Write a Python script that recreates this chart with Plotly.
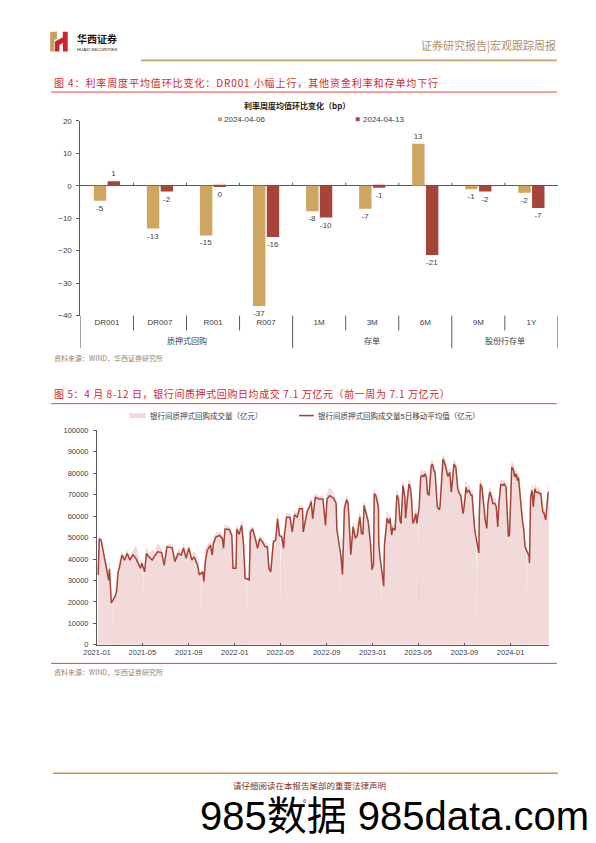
import plotly.graph_objects as go

W, H = 596, 843


def px(x):
    return x / W


def py(y):
    return 1 - y / H


# ---------------- Chart 1 data ----------------
categories = ["DR001", "DR007", "R001", "R007", "1M", "3M", "6M", "9M", "1Y"]
group_names = ["质押式回购", "存单", "股份行存单"]
group_first = [0, 4, 7]
group_last = [3, 6, 8]
series_a_name = "2024-04-06"
series_a = [-4.6, -13.2, -15.3, -37.0, -7.9, -7.1, 12.9, -1.1, -2.2]
series_b_name = "2024-04-13"
series_b = [1.4, -1.8, -0.4, -15.8, -9.8, -0.6, -21.3, -1.8, -6.9]

# ---------------- Chart 2 data ----------------
dates = [
    "2021-01-04", "2021-01-07", "2021-01-12", "2021-01-18", "2021-01-22", "2021-01-28", "2021-02-01", "2021-02-03", "2021-02-05", "2021-02-08",
    "2021-02-18", "2021-02-22", "2021-02-26", "2021-03-01", "2021-03-08", "2021-03-15", "2021-03-22", "2021-03-29", "2021-04-06", "2021-04-14",
    "2021-04-26", "2021-04-30", "2021-05-07", "2021-05-12", "2021-05-18", "2021-05-27", "2021-06-04", "2021-06-11", "2021-06-21", "2021-06-28",
    "2021-07-05", "2021-07-19", "2021-07-26", "2021-08-04", "2021-08-12", "2021-08-18", "2021-08-25", "2021-09-01", "2021-09-09", "2021-09-15",
    "2021-09-24", "2021-09-29", "2021-10-08", "2021-10-11", "2021-10-15", "2021-10-20", "2021-10-28", "2021-11-02", "2021-11-05", "2021-11-12",
    "2021-11-22", "2021-11-29", "2021-12-02", "2021-12-06", "2021-12-17", "2021-12-24", "2021-12-27", "2022-01-04", "2022-01-06", "2022-01-12",
    "2022-01-19", "2022-01-24", "2022-01-28", "2022-02-08", "2022-02-11", "2022-02-17", "2022-02-24", "2022-03-02", "2022-03-08", "2022-03-15",
    "2022-03-22", "2022-03-28", "2022-04-01", "2022-04-06", "2022-04-13", "2022-04-19", "2022-04-24", "2022-04-29", "2022-05-05", "2022-05-10",
    "2022-05-12", "2022-05-18", "2022-05-27", "2022-06-02", "2022-06-08", "2022-06-15", "2022-06-21", "2022-06-29", "2022-07-01", "2022-07-11",
    "2022-07-19", "2022-07-22", "2022-07-26", "2022-08-02", "2022-08-12", "2022-08-22", "2022-08-29", "2022-09-02", "2022-09-09", "2022-09-19",
    "2022-09-26", "2022-09-28", "2022-10-09", "2022-10-13", "2022-10-18", "2022-10-24", "2022-10-28", "2022-11-02", "2022-11-04", "2022-11-10",
    "2022-11-16", "2022-11-21", "2022-11-28", "2022-12-02", "2022-12-06", "2022-12-09", "2022-12-14", "2022-12-20", "2022-12-26", "2022-12-30",
    "2023-01-03", "2023-01-05", "2023-01-09", "2023-01-16", "2023-01-17", "2023-01-20", "2023-01-30", "2023-02-01", "2023-02-06", "2023-02-08",
    "2023-02-13", "2023-02-16", "2023-02-20", "2023-02-23", "2023-03-01", "2023-03-06", "2023-03-10", "2023-03-14", "2023-03-17", "2023-03-22",
    "2023-03-27", "2023-03-29", "2023-04-03", "2023-04-07", "2023-04-11", "2023-04-14", "2023-04-17", "2023-04-21", "2023-04-25", "2023-04-28",
    "2023-05-04", "2023-05-08", "2023-05-12", "2023-05-16", "2023-05-19", "2023-05-23", "2023-05-26", "2023-05-30", "2023-06-05", "2023-06-08",
    "2023-06-12", "2023-06-15", "2023-06-21", "2023-06-26", "2023-06-28", "2023-07-03", "2023-07-06", "2023-07-11", "2023-07-17", "2023-07-19",
    "2023-07-24", "2023-07-28", "2023-08-01", "2023-08-04", "2023-08-09", "2023-08-14", "2023-08-18", "2023-08-22", "2023-08-28", "2023-08-31",
    "2023-09-05", "2023-09-08", "2023-09-13", "2023-09-18", "2023-09-21", "2023-09-26", "2023-09-28", "2023-10-09", "2023-10-10", "2023-10-13",
    "2023-10-17", "2023-10-23", "2023-10-25", "2023-10-30", "2023-11-02", "2023-11-07", "2023-11-10", "2023-11-15", "2023-11-20", "2023-11-24",
    "2023-11-28", "2023-12-01", "2023-12-06", "2023-12-11", "2023-12-15", "2023-12-20", "2023-12-22", "2023-12-26", "2023-12-29", "2024-01-04",
    "2024-01-08", "2024-01-12", "2024-01-16", "2024-01-19", "2024-01-22", "2024-01-26", "2024-01-29", "2024-02-01", "2024-02-05", "2024-02-08",
    "2024-02-19", "2024-02-20", "2024-02-23", "2024-02-27", "2024-03-01", "2024-03-05", "2024-03-08", "2024-03-13", "2024-03-18", "2024-03-21",
    "2024-03-26", "2024-03-29", "2024-04-03", "2024-04-09", "2024-04-12",
]

# 5-day moving average (亿元)
ma_vals = [
    32600, 49500, 48800, 43000, 39500, 34000, 30000, 35500, 28000, 19500,
    22600, 25000, 34000, 35700, 41800, 39500, 42600, 39500, 42000, 40300,
    35700, 38000, 34000, 42600, 41000, 39500, 41800, 43400, 43000, 37000,
    45700, 45200, 38800, 42600, 41800, 45000, 40300, 45000, 39500, 41000,
    37200, 32600, 34000, 29500, 38800, 44000, 46500, 41800, 47200, 50300,
    51000, 49500, 45000, 54000, 53800, 51000, 35700, 35700, 54000, 51400,
    55700, 46500, 31000, 30300, 52600, 54000, 49500, 45000, 49500, 48000,
    45700, 45700, 35700, 34000, 48000, 48800, 58800, 51000, 50300, 45000,
    51000, 59500, 59500, 52600, 60600, 59500, 63400, 63400, 52600, 61800,
    65000, 66800, 58800, 68800, 68000, 68000, 55700, 68000, 69500, 68500,
    66000, 54000, 41000, 32800, 63500, 67700, 65800, 49000, 42000, 55000,
    49700, 51000, 59700, 52000, 51500, 65000, 62000, 57400, 47400, 35000,
    37400, 70500, 69700, 64300, 47400, 41200, 27400, 46600, 55000, 59000,
    56600, 59000, 51200, 54300, 53500, 69700, 68200, 58200, 56600, 74300,
    69000, 59000, 68200, 75000, 72800, 67400, 56600, 58000, 61200, 56600,
    64300, 78200, 79000, 78500, 79700, 78200, 70500, 69700, 83500, 84300,
    81200, 80500, 64300, 63000, 64000, 81200, 86600, 84300, 79000, 78500,
    80500, 71200, 78200, 84300, 82800, 72800, 70500, 69700, 61200, 64300,
    73500, 71200, 72000, 69700, 69700, 59000, 53500, 42800, 59700, 75000,
    73500, 63500, 59000, 54300, 65800, 71200, 69700, 65800, 66000, 64300,
    55000, 65800, 75000, 74300, 75000, 73500, 62800, 50500, 51200, 82800,
    82000, 78200, 79700, 76600, 78000, 70500, 62800, 58200, 53500, 45800,
    41200, 38200, 69000, 72000, 64300, 72800, 71200, 71200, 70500, 70500,
    62000, 61500, 58200, 70500, 71200,
]

# daily volume (亿元)
vol_vals = [
    33000, 50500, 48000, 42000, 40000, 36000, 31000, 38500, 28000, 19000,
    24000, 29000, 36000, 38000, 43000, 41000, 44000, 41000, 43500, 46000,
    37000, 40000, 35000, 45000, 42500, 44000, 43000, 47000, 44500, 38000,
    46500, 47000, 40000, 44500, 43000, 47000, 42000, 46500, 41000, 43500,
    40000, 33500, 35000, 32000, 45000, 46000, 48000, 44000, 49000, 52000,
    52500, 51000, 46500, 56000, 55000, 52500, 37000, 38000, 55500, 53000,
    57500, 48000, 33000, 31500, 54000, 55000, 51000, 47000, 51000, 49500,
    47000, 47500, 37000, 36000, 50000, 50500, 61000, 52500, 52000, 47000,
    53000, 61500, 61000, 54000, 62500, 61000, 65000, 64500, 54000, 63000,
    66500, 68000, 60500, 70500, 69000, 69500, 57500, 70000, 73500, 70000,
    68000, 56000, 43000, 35000, 65500, 69500, 67000, 51000, 44000, 57000,
    51500, 56000, 61500, 53500, 53000, 66500, 63500, 59000, 49000, 37000,
    39000, 72500, 71000, 66000, 49000, 43000, 29000, 48500, 57500, 62000,
    58500, 61000, 53000, 56000, 55500, 72000, 70000, 60000, 58500, 76500,
    71000, 61000, 70500, 77000, 74500, 69000, 58500, 60000, 63500, 58500,
    66500, 80500, 81500, 80000, 81500, 80000, 72500, 72000, 85500, 86000,
    83000, 82500, 66500, 65000, 66500, 83500, 88500, 86500, 81000, 80500,
    82500, 73000, 80000, 86000, 84500, 75000, 72500, 71500, 63500, 66500,
    76000, 73500, 74500, 71500, 72000, 61000, 55500, 45000, 62000, 77000,
    75500, 65500, 61000, 56500, 68000, 73500, 72000, 68000, 68500, 66000,
    57000, 68000, 77000, 76500, 77000, 75000, 65000, 52500, 53500, 85000,
    84500, 80500, 81500, 78500, 80000, 72500, 65000, 60500, 56000, 48000,
    43000, 40500, 71000, 74500, 66500, 75000, 73000, 73500, 72500, 72000,
    64500, 63500, 60500, 73000, 74000,
]

# holiday-period daily volume: last day before, holiday days, first day after
holiday_dates = [
    "2021-02-11", "2021-02-12", "2021-02-14", "2021-02-15",
    "2021-05-01", "2021-05-02", "2021-05-04", "2021-05-05",
    "2021-10-02", "2021-10-03", "2021-10-05", "2021-10-06",
    "2022-01-31", "2022-02-01", "2022-02-03", "2022-02-04",
    "2022-04-30", "2022-05-01", "2022-05-03", "2022-05-04",
    "2022-10-02", "2022-10-03", "2022-10-05", "2022-10-06",
    "2023-01-22", "2023-01-23", "2023-01-25", "2023-01-26",
    "2023-04-30", "2023-05-01", "2023-05-03", "2023-05-04",
    "2023-10-01", "2023-10-02", "2023-10-04", "2023-10-05",
    "2024-02-11", "2024-02-12", "2024-02-14", "2024-02-15",
]
holiday_vals = [
    20000, 0, 0, 21000,
    37500, 12000, 12000, 37000,
    34000, 3000, 3000, 34500,
    31500, 0, 0, 31000,
    51500, 15000, 15000, 51000,
    47000, 0, 0, 45000,
    37000, 14000, 14000, 35000,
    61000, 20000, 20000, 63000,
    49000, 0, 0, 47000,
    46000, 0, 0, 44000,
]

vol_name = "银行间质押式回购成交量（亿元）"
ma_name = "银行间质押式回购成交量5日移动平均值（亿元）"

# ---------------- styles ----------------
TAN = "#CFA562"
RED = "#A6443A"
PINK = "#F2DADA"
AXIS = "#595959"
TXT = "#404040"
TITLE_RED = "#D2282E"
GOLD = "#C9A06A"
SANS = "Liberation Sans, Arial, Noto Sans CJK SC, sans-serif"
CJK = "Noto Sans CJK SC, Liberation Sans, sans-serif"

fig = go.Figure()

fig.add_trace(go.Bar(
    x=categories, y=series_a, name=series_a_name, marker=dict(color=TAN, line=dict(width=0)),
    text=[f"{round(v)}" for v in series_a], textposition="outside",
    textfont=dict(size=8, color=TXT, family=SANS), cliponaxis=False,
    xaxis="x", yaxis="y", showlegend=False))
fig.add_trace(go.Bar(
    x=categories, y=series_b, name=series_b_name, marker=dict(color=RED, line=dict(width=0)),
    text=[f"{round(v)}" for v in series_b], textposition="outside",
    textfont=dict(size=8, color=TXT, family=SANS), cliponaxis=False,
    xaxis="x", yaxis="y", showlegend=False))

vol_pairs = sorted(zip(dates + holiday_dates, vol_vals + holiday_vals))
fig.add_trace(go.Scatter(
    x=[d for d, _ in vol_pairs], y=[v for _, v in vol_pairs], name=vol_name,
    mode="lines", fill="tozeroy", fillcolor=PINK, line=dict(color="#EDCFCF", width=0.6),
    xaxis="x2", yaxis="y2", showlegend=False))
fig.add_trace(go.Scatter(
    x=dates, y=ma_vals, name=ma_name, mode="lines", line=dict(color=RED, width=1.5),
    xaxis="x2", yaxis="y2", showlegend=False))

shapes = []
annotations = []


def hline(x0, x1, y, color, width):
    shapes.append(dict(type="line", xref="paper", yref="paper", x0=px(x0), x1=px(x1),
                       y0=py(y), y1=py(y), line=dict(color=color, width=width)))


def rect(x0, y0, x1, y1, color):
    shapes.append(dict(type="rect", xref="paper", yref="paper", x0=px(x0), x1=px(x1),
                       y0=py(y0), y1=py(y1), fillcolor=color, line=dict(width=0)))


def text(x, y, s, size, color, family=SANS, anchor="left", bold=False, spacing=None):
    if bold:
        s = f"<b>{s}</b>"
    if spacing:
        s = f"<span style='letter-spacing:{spacing}px'>{s}</span>"
    annotations.append(dict(xref="paper", yref="paper", x=px(x), y=py(y), text=s,
                            showarrow=False, xanchor=anchor, yanchor="middle", borderpad=0,
                            font=dict(size=size, color=color, family=family)))


def path(points, color):
    d = "M " + " L ".join(f"{px(a):.5f},{py(b):.5f}" for a, b in points) + " Z"
    shapes.append(dict(type="path", xref="paper", yref="paper", path=d,
                       fillcolor=color, line=dict(width=0)))


# header
path([(37, 28), (44, 28), (44, 35), (41.5, 36.5), (41.5, 48), (37, 48)], "#C9A063")
path([(42, 48), (42, 38), (50, 33.5), (50, 28), (55, 28), (55, 48), (50, 48), (50, 39.5), (46.5, 41.5), (46.5, 48)], "#C8242B")
text(64, 35, "华西证券", 10, "#231815", CJK, bold=True)
text(64, 45.5, "HUAXI SECURITIES", 4.3, "#231815", SANS)
text(556, 41, "证券研究报告|宏观跟踪周报", 11, "#B0916A", CJK, anchor="right")
hline(130, 556, 57, GOLD, 1.6)

# figure 4 title
text(40, 79, "图 4：利率周度平均值环比变化：DR001 小幅上行，其他资金利率和存单均下行", 10, TITLE_RED, CJK, spacing=0.9)
hline(38, 556, 89, "#E04646", 1)

# chart 1 title and legend
text(290, 102.5, "利率周度均值环比变化（bp）", 8, "#222222", CJK, anchor="center", bold=True)
rect(209, 114.5, 213, 118.5, TAN)
text(214, 116.8, series_a_name, 8, TXT)
rect(350, 114.5, 354, 118.5, RED)
text(356, 116.8, series_b_name, 8, TXT)

# chart 1 category table
for b in [0.5, 1.5, 2.5, 3.5, 4.5, 5.5, 6.5, 7.5]:
    shapes.append(dict(type="line", xref="x", yref="y", x0=b, x1=b, y0=0, y1=0.9,
                       line=dict(color=AXIS, width=1)))
for b in [-0.5, 3.5, 6.5, 8.5]:
    shapes.append(dict(type="line", xref="x", yref="paper", x0=b, x1=b, y0=py(315), y1=py(348),
                       line=dict(color=AXIS, width=1)))
for b in [0.5, 1.5, 2.5, 4.5, 5.5, 7.5]:
    shapes.append(dict(type="line", xref="x", yref="paper", x0=b, x1=b, y0=py(315), y1=py(330),
                       line=dict(color=AXIS, width=1)))
for name, a, b in zip(group_names, group_first, group_last):
    annotations.append(dict(xref="x", yref="paper", x=(a + b) / 2, y=py(341), text=name,
                            showarrow=False, xanchor="center", yanchor="middle",
                            font=dict(size=8, color=TXT, family=SANS)))

text(40, 358, "资料来源：WIND，华西证券研究所", 7, "#9A8268", CJK)

# figure 5 title
text(40, 394, "图 5：4 月 8-12 日，银行间质押式回购日均成交 7.1 万亿元（前一周为 7.1 万亿元）", 10, TITLE_RED, CJK, spacing=0.6)
hline(38, 556, 404, "#E04646", 1)

# chart 2 legend
rect(118, 413.5, 135, 418.5, PINK)
text(138, 416, vol_name, 7.5, TXT)
hline(292, 307, 416, RED, 1.6)
text(310, 416, ma_name, 7.5, TXT)

hline(38, 556, 666.5, "#E04646", 1)
text(40, 675, "资料来源：WIND，华西证券研究所", 7, "#9A8268", CJK)

# footer
hline(40, 557, 777.5, "#C8914E", 1.6)
text(303, 789, "请仔细阅读在本报告尾部的重要法律声明", 8.5, "#7B2D26", CJK, anchor="center")
text(298, 806, "6", 6, "#7B2D26", SANS, anchor="center")
text(189, 821, "985数据 985data.com", 40, "#000000", SANS)

fig.update_layout(
    width=W, height=H, margin=dict(l=0, r=0, t=0, b=0),
    paper_bgcolor="white", plot_bgcolor="rgba(0,0,0,0)",
    font=dict(family=SANS, size=8, color=TXT),
    barmode="group", bargap=0.48, bargroupgap=0.1, showlegend=False,
    xaxis=dict(domain=[px(68), px(557)], anchor="y", type="category", range=[-0.5, 8.5],
               showline=False, showgrid=False, ticks="", zeroline=False,
               tickfont=dict(size=8, color=TXT)),
    yaxis=dict(domain=[py(315), py(118)], anchor="x", range=[-40, 20], dtick=10,
               showline=True, linecolor=AXIS, linewidth=1, ticks="outside", ticklen=3,
               tickcolor=AXIS, showgrid=False, zeroline=True, zerolinecolor=AXIS,
               zerolinewidth=1, tickfont=dict(size=8, color=TXT), ticklabelstandoff=3),
    xaxis2=dict(domain=[px(85), px(548)], anchor="y2", type="date",
                range=["2021-01-01", "2024-04-12"], tick0="2021-01-01", dtick="M4",
                tickformat="%Y-%m", ticks="inside", ticklen=2, tickcolor=AXIS,
                showline=True, linecolor=AXIS, linewidth=1, showgrid=False,
                tickfont=dict(size=7.5, color=TXT)),
    yaxis2=dict(domain=[py(647.7), py(431)], anchor="x2", range=[0, 100000], dtick=10000,
                tickformat="d", showline=True, linecolor=AXIS, linewidth=1,
                ticks="outside", ticklen=3, tickcolor=AXIS, showgrid=False, zeroline=False,
                tickfont=dict(size=7.5, color=TXT), ticklabelstandoff=3),
    shapes=shapes, annotations=annotations,
)

fig.write_html("out.html", config={"displayModeBar": False},
               post_script="document.body.style.margin='0';document.body.style.padding='0';")
